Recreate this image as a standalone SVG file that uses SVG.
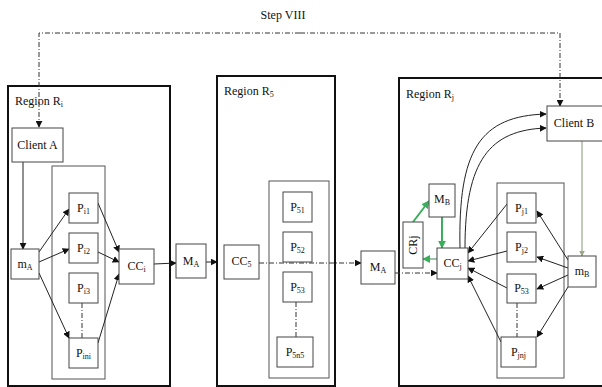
<svg xmlns="http://www.w3.org/2000/svg" width="602" height="387" viewBox="0 0 602 387" font-family="'Liberation Serif', 'DejaVu Serif', serif">
<style>
text{font-family:'Liberation Serif','DejaVu Serif',serif;font-size:12px;fill:#111}
.t{text-anchor:middle}
.s{font-size:8px}
.region{fill:none;stroke:#111;stroke-width:2}
.inner{fill:none;stroke:#555;stroke-width:1}
.box{fill:#fff;stroke:#444;stroke-width:1}
.c{fill:none;stroke:#222;stroke-width:1}
.dd{fill:none;stroke:#333;stroke-width:1;stroke-dasharray:5 2 1 2}
.g{fill:none;stroke:#3aae5c;stroke-width:2}
</style>
<defs>
<marker id="ah" viewBox="0 0 10 10" refX="9" refY="5" markerWidth="7" markerHeight="7" markerUnits="userSpaceOnUse" orient="auto"><path d="M0,0 L10,5 L0,10 z" fill="#111"/></marker>
<marker id="ahg" viewBox="0 0 10 10" refX="9" refY="5" markerWidth="8" markerHeight="8" markerUnits="userSpaceOnUse" orient="auto"><path d="M0,0 L10,5 L0,10 z" fill="#3aae5c"/></marker>
<marker id="ahgr" viewBox="0 0 10 10" refX="9" refY="5" markerWidth="6" markerHeight="6" markerUnits="userSpaceOnUse" orient="auto"><path d="M0,0 L10,5 L0,10 z" fill="#9aa88a"/></marker>
</defs>

<text x="283" y="19" class="t" font-size="11">Step VIII</text>

<g id="regions">
<rect id="region-i" class="region" x="8" y="86" width="162" height="300"/>
<text x="15" y="105">Region R<tspan class="s" dy="2">i</tspan></text>
<rect id="region-5" class="region" x="217" y="76" width="118" height="310"/>
<text x="224" y="95">Region R<tspan class="s" dy="2">5</tspan></text>
<rect id="region-j" class="region" x="399" y="78" width="210" height="308"/>
<text x="406" y="98">Region R<tspan class="s" dy="2">j</tspan></text>
<rect class="inner" x="52" y="166" width="53" height="213"/>
<rect class="inner" x="269" y="181" width="60" height="197"/>
<rect class="inner" x="497" y="183" width="67" height="195"/>
</g>

<g id="connectors">
<polyline class="dd" points="300,33 39,33 39,127" marker-end="url(#ah)"/>
<polyline class="dd" points="300,33 560,33 560,106" marker-end="url(#ah)"/>
<line class="c" x1="23" y1="162" x2="23" y2="249" marker-end="url(#ah)"/>
<line class="c" x1="39" y1="252" x2="69" y2="209" marker-end="url(#ah)"/>
<line class="c" x1="39" y1="262" x2="69" y2="249" marker-end="url(#ah)"/>
<line class="c" x1="39" y1="273" x2="69" y2="338" marker-end="url(#ah)"/>
<line class="dd" x1="82" y1="303" x2="82" y2="338"/>
<line class="c" x1="98" y1="203" x2="119" y2="252" marker-end="url(#ah)"/>
<line class="c" x1="98" y1="252" x2="119" y2="262" marker-end="url(#ah)"/>
<line class="c" x1="98" y1="343" x2="119" y2="274" marker-end="url(#ah)"/>
<line class="c" x1="154" y1="264" x2="176" y2="263" marker-end="url(#ah)"/>
<line class="c" x1="206" y1="262" x2="217" y2="262" marker-end="url(#ah)"/>
<line class="dd" x1="296" y1="302" x2="296" y2="337"/>
<line class="dd" x1="259" y1="263" x2="361" y2="263" marker-end="url(#ah)"/>
<line class="dd" x1="395" y1="273" x2="437" y2="273" marker-end="url(#ah)"/>
<path class="c" d="M460,248 C458,150 480,116 546,114" marker-end="url(#ah)"/>
<path class="c" d="M465,248 C465,160 490,130 546,128" marker-end="url(#ah)"/>
<line x1="582" y1="141" x2="582" y2="256" stroke="#9aa88a" stroke-width="1.2" marker-end="url(#ahgr)"/>
<line class="g" x1="413" y1="222" x2="429" y2="201" marker-end="url(#ahg)"/>
<line class="g" x1="442" y1="217" x2="442" y2="248" marker-end="url(#ahg)"/>
<line x1="437" y1="259" x2="423" y2="259" stroke="#5a9a70" stroke-width="1.2" marker-end="url(#ahg)"/>
<line class="c" x1="507" y1="204" x2="468" y2="253" marker-end="url(#ah)"/>
<line class="c" x1="507" y1="251" x2="468" y2="261" marker-end="url(#ah)"/>
<line class="c" x1="507" y1="288" x2="468" y2="268" marker-end="url(#ah)"/>
<line class="c" x1="501" y1="342" x2="468" y2="276" marker-end="url(#ah)"/>
<line class="c" x1="568" y1="260" x2="537" y2="211" marker-end="url(#ah)"/>
<line class="c" x1="568" y1="268" x2="537" y2="257" marker-end="url(#ah)"/>
<line class="c" x1="568" y1="275" x2="537" y2="289" marker-end="url(#ah)"/>
<line class="c" x1="568" y1="287" x2="537" y2="337" marker-end="url(#ah)"/>
<line class="dd" x1="517" y1="303" x2="517" y2="337"/>
</g>

<g id="clientA"><rect class="box" x="12" y="128" width="51" height="34"/><text class="t" x="37.5" y="149">Client A</text></g>
<g id="mA"><rect class="box" x="11" y="249" width="28" height="30"/><text class="t" x="25" y="268">m<tspan class="s" dy="2">A</tspan></text></g>
<g id="Pi1"><rect class="box" x="69" y="193" width="29" height="30"/><text class="t" x="83.5" y="212">P<tspan class="s" dy="2">i1</tspan></text></g>
<g id="Pi2"><rect class="box" x="69" y="233" width="29" height="30"/><text class="t" x="83.5" y="252">P<tspan class="s" dy="2">i2</tspan></text></g>
<g id="Pi3"><rect class="box" x="69" y="273" width="29" height="30"/><text class="t" x="83.5" y="292">P<tspan class="s" dy="2">i3</tspan></text></g>
<g id="Pini"><rect class="box" x="69" y="338" width="29" height="30"/><text class="t" x="83.5" y="357">P<tspan class="s" dy="2">ini</tspan></text></g>
<g id="CCi"><rect class="box" x="119" y="249" width="35" height="35"/><text class="t" x="136.5" y="270">CC<tspan class="s" dy="2">i</tspan></text></g>
<g id="MA1"><rect class="box" x="176" y="244" width="30" height="34"/><text class="t" x="191" y="265" font-size="11">M<tspan class="s" dy="2">A</tspan></text></g>
<g id="CC5"><rect class="box" x="224" y="245" width="35" height="34"/><text class="t" x="241.5" y="265">CC<tspan class="s" dy="2">5</tspan></text></g>
<g id="P51"><rect class="box" x="283" y="192" width="29" height="30"/><text class="t" x="297.5" y="211">P<tspan class="s" dy="2">51</tspan></text></g>
<g id="P52"><rect class="box" x="283" y="232" width="29" height="30"/><text class="t" x="297.5" y="251">P<tspan class="s" dy="2">52</tspan></text></g>
<g id="P53"><rect class="box" x="283" y="272" width="29" height="30"/><text class="t" x="297.5" y="291">P<tspan class="s" dy="2">53</tspan></text></g>
<g id="P5n5"><rect class="box" x="277" y="337" width="36" height="30"/><text class="t" x="295" y="356">P<tspan class="s" dy="2">5n5</tspan></text></g>
<g id="MA2"><rect class="box" x="361" y="251" width="34" height="33"/><text class="t" x="378" y="271">M<tspan class="s" dy="2">A</tspan></text></g>
<g id="CRj"><rect class="box" x="403" y="222" width="20" height="46"/><text class="t" x="0" y="0" transform="translate(417,245) rotate(-90)">CRj</text></g>
<g id="MB"><rect class="box" x="429" y="184" width="26" height="33"/><text class="t" x="442" y="203" font-size="11">M<tspan class="s" dy="2">B</tspan></text></g>
<g id="CCj"><rect class="box" x="437" y="248" width="31" height="31"/><text class="t" x="452.5" y="267">CC<tspan class="s" dy="2">j</tspan></text></g>
<g id="clientB"><rect class="box" x="547" y="106" width="60" height="35"/><text class="t" x="574" y="127">Client B</text></g>
<g id="Pj1"><rect class="box" x="507" y="193" width="29" height="30"/><text class="t" x="521.5" y="212">P<tspan class="s" dy="2">j1</tspan></text></g>
<g id="Pj2"><rect class="box" x="507" y="232" width="29" height="30"/><text class="t" x="521.5" y="251">P<tspan class="s" dy="2">j2</tspan></text></g>
<g id="Pj3"><rect class="box" x="507" y="274" width="29" height="29"/><text class="t" x="521.5" y="292">P<tspan class="s" dy="2">53</tspan></text></g>
<g id="Pjnj"><rect class="box" x="501" y="337" width="35" height="30"/><text class="t" x="518.5" y="356">P<tspan class="s" dy="2">jnj</tspan></text></g>
<g id="mB"><rect class="box" x="568" y="256" width="28" height="31"/><text class="t" x="582" y="275">m<tspan class="s" dy="2">B</tspan></text></g>
</svg>
